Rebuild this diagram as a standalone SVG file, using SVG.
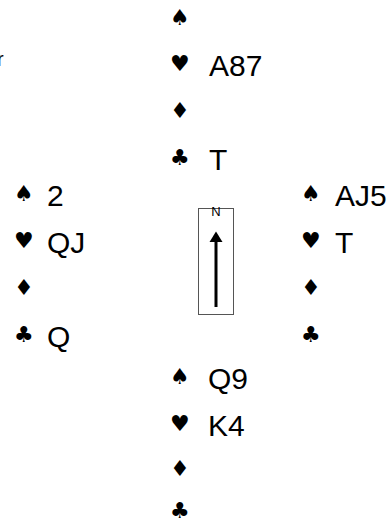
<svg xmlns="http://www.w3.org/2000/svg" width="392" height="522" viewBox="0 0 392 522">
<style>
text { font-family: "Liberation Sans", Arial, sans-serif; fill: #000; }
.s { font-family: "DejaVu Sans", sans-serif; font-size: 22px; }
.c { font-size: 30px; }
.n { font-size: 13px; text-anchor: middle; }
.box { fill: none; stroke: #555; stroke-width: 1; }
</style>
<rect width="392" height="522" fill="#fff"/>
<text x="-3" y="66" style="font-size:20px">r</text>
<g id="north">
<text class="s" x="170" y="25">♠</text>
<text class="s" x="170" y="71">♥</text><text class="c" x="209" y="76">A87</text>
<text class="s" x="170" y="118">♦</text>
<text class="s" x="170" y="165">♣</text><text class="c" x="209" y="170">T</text>
</g>
<g id="west">
<text class="s" x="14" y="201">♠</text><text class="c" x="47" y="206">2</text>
<text class="s" x="14" y="248">♥</text><text class="c" x="47" y="253">QJ</text>
<text class="s" x="14" y="295">♦</text>
<text class="s" x="14" y="342">♣</text><text class="c" x="47" y="347">Q</text>
</g>
<g id="east">
<text class="s" x="301" y="201">♠</text><text class="c" x="335" y="206">AJ5</text>
<text class="s" x="301" y="248">♥</text><text class="c" x="335" y="253">T</text>
<text class="s" x="301" y="295">♦</text>
<text class="s" x="301" y="342">♣</text>
</g>
<g id="south">
<text class="s" x="170" y="384">♠</text><text class="c" x="208" y="389">Q9</text>
<text class="s" x="170" y="431">♥</text><text class="c" x="208" y="436">K4</text>
<text class="s" x="170" y="476">♦</text>
<text class="s" x="170" y="518">♣</text>
</g>
<g id="compass">
<rect class="box" x="198.5" y="208.5" width="35" height="106"/>
<text class="n" x="216" y="216">N</text>
</g>
<g id="connectors">
<line x1="216" y1="307" x2="216" y2="240" stroke="#000" stroke-width="3"/>
<polygon points="216,231.5 209.5,242 222.5,242" fill="#000"/>
</g>
</svg>
